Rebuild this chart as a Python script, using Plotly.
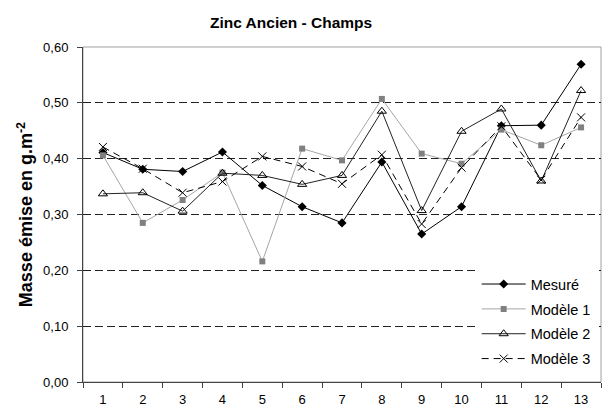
import plotly.graph_objects as go

categories = [str(i) for i in range(1, 14)]
mesure = [0.411, 0.381, 0.377, 0.412, 0.352, 0.314, 0.285, 0.394, 0.265, 0.314, 0.459, 0.460, 0.569]
modele1 = [0.406, 0.285, 0.326, 0.375, 0.216, 0.418, 0.397, 0.507, 0.409, 0.391, 0.452, 0.424, 0.456]
modele2 = [0.337, 0.339, 0.306, 0.374, 0.370, 0.354, 0.370, 0.485, 0.307, 0.449, 0.489, 0.360, 0.522]
modele3 = [0.421, 0.382, 0.339, 0.359, 0.404, 0.386, 0.355, 0.407, 0.283, 0.384, 0.458, 0.362, 0.474]
y_ticks = [0.0, 0.1, 0.2, 0.3, 0.4, 0.5, 0.6]

FONT = "Arial, Liberation Sans, sans-serif"

fig = go.Figure()

fig.add_trace(go.Scatter(
    x=categories, y=mesure, name="Mesuré", mode="lines+markers", legendgroup="a",
    line=dict(color="#000000", width=1),
    marker=dict(symbol="diamond", size=7, color="#000000"),
))
fig.add_trace(go.Scatter(
    x=categories, y=modele1, name="Modèle 1", mode="lines+markers", legendgroup="b",
    line=dict(color="#a6a6a6", width=1),
    marker=dict(symbol="square", size=6, color="#808080"),
))
fig.add_trace(go.Scatter(
    x=categories, y=modele2, name="Modèle 2", mode="lines+markers", legendgroup="c",
    line=dict(color="#222222", width=1),
    marker=dict(symbol="triangle-up-open", size=8, color="#000000", line=dict(width=1)),
))
fig.add_trace(go.Scatter(
    x=categories, y=modele3, name="Modèle 3", mode="lines+markers", legendgroup="d",
    line=dict(color="#000000", width=1, dash="7px,5px"),
    marker=dict(symbol="x-thin-open", size=8, color="#000000", line=dict(width=1, color="#000000")),
))

# plot area frame
fig.add_shape(type="rect", xref="paper", yref="paper", x0=0, x1=1, y0=0, y1=1,
              line=dict(color="#a0a0a0", width=1), layer="below")

fig.update_layout(
    width=604, height=408,
    margin=dict(l=83, r=3, t=47, b=26),
    paper_bgcolor="white", plot_bgcolor="white",
    separators=", ",
    font=dict(family=FONT, size=13, color="#000000"),
    title=dict(text="<b>Zinc Ancien - Champs</b>", x=0.482, xanchor="center",
               y=0.945, yanchor="middle", font=dict(size=15.5, family=FONT)),
    showlegend=True,
    legend=dict(x=0.76, xanchor="left", y=0.34, yanchor="top",
                bgcolor="white", borderwidth=0, tracegroupgap=3, itemwidth=44,
                font=dict(size=14.5, family=FONT)),
    xaxis=dict(
        type="category", showgrid=False, showline=True, linecolor="#444444", linewidth=1,
        ticks="outside", tickson="boundaries", ticklen=5, tickcolor="#444444",
        tickfont=dict(size=13), range=[-0.5, 12.5], ticklabelstandoff=5,
        automargin=False,
    ),
    yaxis=dict(
        range=[0, 0.6], tickvals=y_ticks, tickformat=".2f",
        showgrid=True, gridcolor="#222222", gridwidth=1, griddash="8px,4px",
        showline=True, linecolor="#444444", linewidth=1, zeroline=False,
        ticks="outside", ticklen=5, tickcolor="#444444",
        tickfont=dict(size=13), ticklabelstandoff=6, automargin=False,
        title=dict(text="<b>Masse émise en g.m<sup>-2</sup></b>", font=dict(size=18), standoff=5),
    ),
)

fig.write_html("out.html")
